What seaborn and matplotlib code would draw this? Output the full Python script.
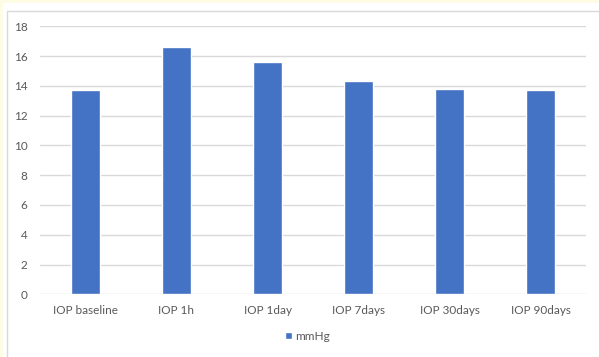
import matplotlib
matplotlib.use("Agg")
import matplotlib.pyplot as plt
from matplotlib.patches import Rectangle
import seaborn as sns
import pandas as pd

# Intraocular pressure at each follow-up time point
timepoints = ["IOP baseline", "IOP 1h", "IOP 1day", "IOP 7days", "IOP 30days", "IOP 90days"]
iop_mmhg = [13.7, 16.6, 15.6, 14.3, 13.8, 13.7]
series_name = "mmHg"

y_ticks = [0, 2, 4, 6, 8, 10, 12, 14, 16, 18]

BAR = "#4472C4"
GRID = "#D9D9D9"
TEXT = "#595959"

sns.set_theme(style="white")
plt.rcParams["font.family"] = ["Lato", "DejaVu Sans"]

W, H = 599, 357
fig = plt.figure(figsize=(W / 100, H / 100), dpi=100)
fig.patch.set_facecolor("#FFFCE6")

# white panel and light chart border, kept behind the axes
fig.patches.append(Rectangle((3 / W, 0), 1, 1 - 3 / H, transform=fig.transFigure,
                             facecolor="white", edgecolor="none", zorder=-2))
fig.patches.append(Rectangle((7 / W, -0.05), 1, 1.05 - 11 / H, transform=fig.transFigure,
                             facecolor="white", edgecolor="#D9D9D9", linewidth=1.0, zorder=-1))

ax = fig.add_axes([40 / W, 1 - 294.3 / H, (586 - 40) / W, (294.3 - 26.3) / H])
ax.set_facecolor("none")
ax.set_zorder(1)

df = pd.DataFrame({"timepoint": timepoints, "value": iop_mmhg})
sns.barplot(data=df, x="timepoint", y="value", color=BAR, saturation=1,
            width=0.31, label=series_name, ax=ax, zorder=3)

ax.set_ylim(0, 18)
ax.set_yticks(y_ticks)
ax.set_xlim(-0.5, len(timepoints) - 0.5)
ax.yaxis.grid(True, color=GRID, linewidth=1.0, zorder=0)
ax.xaxis.grid(False)
ax.set_axisbelow(True)
for s in ax.spines.values():
    s.set_visible(False)
ax.set_xlabel("")
ax.set_ylabel("")
ax.tick_params(axis="both", length=0, colors=TEXT, labelsize=8.5)
ax.tick_params(axis="y", pad=9)
ax.tick_params(axis="x", pad=8)

handles, labels = ax.get_legend_handles_labels()
if ax.get_legend() is not None:
    ax.get_legend().remove()
leg = fig.legend(handles, labels, loc="center", bbox_to_anchor=(307.5 / W, 1 - 336 / H),
                 frameon=False, fontsize=8.5, handlelength=0.6, handleheight=0.6,
                 handletextpad=0.3, borderpad=0)
for t in leg.get_texts():
    t.set_color(TEXT)

fig.savefig("out.png", dpi=100, facecolor=fig.get_facecolor())
